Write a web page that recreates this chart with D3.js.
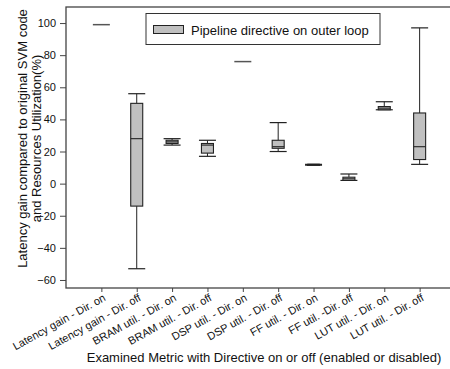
<!DOCTYPE html>
<html>
<head>
<meta charset="utf-8">
<script src="https://cdn.jsdelivr.net/npm/d3@7"></script>
<style>
  html, body { margin: 0; padding: 0; background: #fff; }
  svg { display: block; }
  svg text { font-family: "Liberation Sans", Arial, sans-serif; }
</style>
</head>
<body>
<svg id="chart" width="450" height="369"></svg>
<script>
// Examined metrics (directive on / off)
const categories = [
  "Latency gain - Dir. on", "Latency gain - Dir. off",
  "BRAM util. - Dir. on", "BRAM util. - Dir. off",
  "DSP util. - Dir. on", "DSP util. - Dir. off",
  "FF util. - Dir. on", "FF util. -Dir. off",
  "LUT util. - Dir. on", "LUT util. - Dir. off"
];
// Box-plot statistics per metric (%)
const minValues    = [99, -53, 24, 17, 76, 20, 11.5, 2, 46, 12];
const q1Values     = [99, -14, 25, 19, 76, 22, 11.5, 2, 46, 15];
const medianValues = [99,  28, 26, 24, 76, 23, 12,   3, 47, 23];
const q3Values     = [99,  50, 27, 25, 76, 27, 12,   4, 48, 44];
const maxValues    = [99,  56, 28, 27, 76, 38, 12,   6, 51, 97];
const yTicks = [-60, -40, -20, 0, 20, 40, 60, 80, 100];
const legendLabel = "Pipeline directive on outer loop";

const svg = d3.select("#chart");
const mLeft = 66, mRight = 455, mTop = 7, mBottom = 288;

const x = d3.scalePoint().domain(categories).range([mLeft, mRight]).padding(1);
const y = d3.scaleLinear().domain([-65, 110]).range([mBottom, mTop]);

const boxW = 12, capW = 17;
const ink = "#222";

// frame
svg.append("rect")
  .attr("x", mLeft).attr("y", mTop)
  .attr("width", mRight - mLeft).attr("height", mBottom - mTop)
  .attr("fill", "none").attr("stroke", "#444").attr("stroke-width", 1.3);

// y axis
const yAxis = svg.append("g")
  .attr("transform", `translate(${mLeft},0)`)
  .call(d3.axisLeft(y).tickValues(yTicks).tickSize(6).tickPadding(4));
yAxis.select(".domain").remove();
yAxis.selectAll("line").attr("stroke", "#444");
yAxis.selectAll("text").attr("font-size", 11).attr("fill", "#111");

// x axis
const xAxis = svg.append("g")
  .attr("transform", `translate(0,${mBottom})`)
  .call(d3.axisBottom(x).tickSize(4).tickFormat(""));
xAxis.select(".domain").remove();
xAxis.selectAll("line").attr("stroke", "#444");

// rotated category labels
svg.append("g").selectAll("text")
  .data(categories)
  .join("text")
  .attr("transform", d => `translate(${x(d) + 5},${mBottom + 12}) rotate(-29)`)
  .attr("text-anchor", "end")
  .attr("font-size", 11)
  .attr("fill", "#111")
  .text(d => d);

// boxes
const data = categories.map((c, i) => ({
  c, min: minValues[i], q1: q1Values[i], med: medianValues[i],
  q3: q3Values[i], max: maxValues[i]
}));

const g = svg.append("g");
data.forEach(d => {
  const cx = x(d.c);
  if (d.max === d.min) {
    g.append("line")
      .attr("x1", cx - capW / 2).attr("x2", cx + capW / 2)
      .attr("y1", y(d.med)).attr("y2", y(d.med))
      .attr("stroke", "#555").attr("stroke-width", 1.5);
    return;
  }
  // whiskers
  g.append("line").attr("x1", cx).attr("x2", cx)
    .attr("y1", y(d.max)).attr("y2", y(d.q3)).attr("stroke", ink);
  g.append("line").attr("x1", cx).attr("x2", cx)
    .attr("y1", y(d.q1)).attr("y2", y(d.min)).attr("stroke", ink);
  [d.max, d.min].forEach(v => {
    g.append("line")
      .attr("x1", cx - capW / 2).attr("x2", cx + capW / 2)
      .attr("y1", y(v)).attr("y2", y(v))
      .attr("stroke", ink).attr("stroke-width", 1.2);
  });
  // box
  g.append("rect")
    .attr("x", cx - boxW / 2).attr("width", boxW)
    .attr("y", y(d.q3)).attr("height", Math.max(1, y(d.q1) - y(d.q3)))
    .attr("fill", "#c0c0c0").attr("stroke", ink).attr("stroke-width", 1.1);
  // median
  g.append("line")
    .attr("x1", cx - boxW / 2).attr("x2", cx + boxW / 2)
    .attr("y1", y(d.med)).attr("y2", y(d.med))
    .attr("stroke", ink).attr("stroke-width", 1.1);
});

// legend
const lg = svg.append("g");
lg.append("rect").attr("x", 146).attr("y", 13.5).attr("width", 234).attr("height", 31)
  .attr("fill", "#fff").attr("stroke", "#333").attr("stroke-width", 1);
lg.append("rect").attr("x", 153.5).attr("y", 25.5).attr("width", 30).attr("height", 8)
  .attr("fill", "#c0c0c0").attr("stroke", ink).attr("stroke-width", 1);
lg.append("text").attr("x", 191).attr("y", 34.5).attr("font-size", 13)
  .attr("fill", "#111").text(legendLabel);

// axis titles
const yt = svg.append("text")
  .attr("transform", `translate(27,${(mTop + mBottom) / 2 - 9}) rotate(-90)`)
  .attr("text-anchor", "middle").attr("font-size", 13).attr("fill", "#111");
yt.append("tspan").attr("x", 0).attr("dy", 0).text("Latency gain compared to original SVM code");
yt.append("tspan").attr("x", 0).attr("dy", 14).text("and Resources Utilization(%)");

svg.append("text")
  .attr("x", 264).attr("y", 362)
  .attr("text-anchor", "middle").attr("font-size", 13).attr("fill", "#111")
  .text("Examined Metric with Directive on or off (enabled or disabled)");
</script>
</body>
</html>
